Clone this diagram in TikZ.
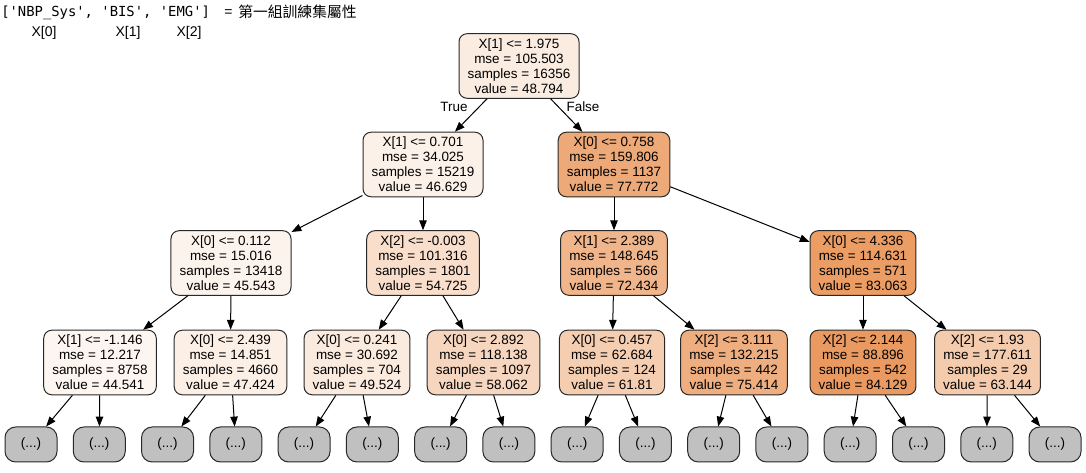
\documentclass[tikz,border=0pt]{standalone}
\usepackage{fontspec}
\setmainfont{Liberation Sans}
\setmonofont{DejaVu Sans Mono}
\newfontfamily\cjkfont{Noto Sans CJK TC}
\usetikzlibrary{arrows.meta}

\definecolor{cA}{RGB}{251,236,225}
\definecolor{cB}{RGB}{252,241,233}
\definecolor{cC}{RGB}{237,169,120}
\definecolor{cD}{RGB}{253,243,237}
\definecolor{cE}{RGB}{248,222,203}
\definecolor{cF}{RGB}{240,181,139}
\definecolor{cG}{RGB}{235,157,100}
\definecolor{cH}{RGB}{253,246,240}
\definecolor{cI}{RGB}{252,239,230}
\definecolor{cJ}{RGB}{251,234,222}
\definecolor{cK}{RGB}{247,214,191}
\definecolor{cL}{RGB}{245,206,178}
\definecolor{cM}{RGB}{238,174,128}
\definecolor{cN}{RGB}{234,154,96}
\definecolor{cO}{RGB}{244,203,173}
\definecolor{leafgray}{RGB}{192,192,192}
\definecolor{bordergray}{RGB}{40,40,40}

\tikzset{
  tnode/.style={draw=bordergray, line width=0.75pt, rounded corners=6pt, align=center,
    inner xsep=6.4pt, inner ysep=0pt, minimum height=48.4pt,
    font=\fontsize{10.1pt}{11.25pt}\selectfont},
  leafbox/.style={draw=bordergray, line width=0.75pt, rounded corners=8pt, fill=leafgray,
    minimum width=39pt, minimum height=26.25pt, inner sep=0pt,
    font=\fontsize{10.1pt}{11.25pt}\selectfont},
  conn/.style={draw=black, line width=0.75pt, -{Triangle[length=7.4pt,width=5.6pt]}},
  lbl/.style={inner sep=0pt, font=\fontsize{10.1pt}{11.25pt}\selectfont},
  hdrtxt/.style={inner sep=0pt, font=\fontsize{10.5pt}{12pt}\selectfont},
}

\begin{document}
\begin{tikzpicture}[x=0.75pt, y=-0.75pt]
\useasboundingbox (0,0) rectangle (1086,473);

% header text
\node[anchor=base west, inner sep=0pt, font=\ttfamily\fontsize{10.4pt}{12pt}\selectfont] (hdr) at (1,17) {['NBP\_Sys', 'BIS', 'EMG']};
\node[anchor=base west, hdrtxt] (eq) at (224,17) {=};
\node[anchor=base west, inner sep=0pt, font=\cjkfont\fontsize{11.1pt}{12pt}\selectfont] (cjk) at (238,17.5) {第一組訓練集屬性};
\node[anchor=base, hdrtxt] (x0) at (44,37) {X[0]};
\node[anchor=base, hdrtxt] (x1) at (128,37) {X[1]};
\node[anchor=base, hdrtxt] (x2) at (189,37) {X[2]};

% level 0
\node[tnode, fill=cA] (r) at (519,66) {X[1] <= 1.975\\mse = 105.503\\samples = 16356\\value = 48.794};
% level 1
\node[tnode, fill=cB] (n1) at (423,164.5) {X[1] <= 0.701\\mse = 34.025\\samples = 15219\\value = 46.629};
\node[tnode, fill=cC] (n2) at (614,164.5) {X[0] <= 0.758\\mse = 159.806\\samples = 1137\\value = 77.772};
% level 2
\node[tnode, fill=cD] (n11) at (231,263) {X[0] <= 0.112\\mse = 15.016\\samples = 13418\\value = 45.543};
\node[tnode, fill=cE] (n12) at (423,263) {X[2] <= -0.003\\mse = 101.316\\samples = 1801\\value = 54.725};
\node[tnode, fill=cF] (n21) at (614,263) {X[1] <= 2.389\\mse = 148.645\\samples = 566\\value = 72.434};
\node[tnode, fill=cG] (n22) at (863,263) {X[0] <= 4.336\\mse = 114.631\\samples = 571\\value = 83.063};
% level 3
\node[tnode, fill=cH] (n111) at (100,362.5) {X[1] <= -1.146\\mse = 12.217\\samples = 8758\\value = 44.541};
\node[tnode, fill=cI] (n112) at (230.5,362.5) {X[0] <= 2.439\\mse = 14.851\\samples = 4660\\value = 47.424};
\node[tnode, fill=cJ] (n121) at (357,362.5) {X[0] <= 0.241\\mse = 30.692\\samples = 704\\value = 49.524};
\node[tnode, fill=cK] (n122) at (483.5,362.5) {X[0] <= 2.892\\mse = 118.138\\samples = 1097\\value = 58.062};
\node[tnode, fill=cL] (n211) at (612,362.5) {X[0] <= 0.457\\mse = 62.684\\samples = 124\\value = 61.81};
\node[tnode, fill=cM] (n212) at (734,362.5) {X[2] <= 3.111\\mse = 132.215\\samples = 442\\value = 75.414};
\node[tnode, fill=cN] (n221) at (863,362.5) {X[2] <= 2.144\\mse = 88.896\\samples = 542\\value = 84.129};
\node[tnode, fill=cO] (n222) at (987.5,362.5) {X[2] <= 1.93\\mse = 177.611\\samples = 29\\value = 63.144};

% leaves
\foreach \i in {1,...,16} {
  \node[leafbox] (l\i) at ({31+68.27*(\i-1)},444.5) {(...)};
}

% labels
\node[lbl] (tl) at (454,107) {True};
\node[lbl] (fl) at (583,107) {False};

% edges
\draw[conn] (r) -- (n1);
\draw[conn] (r) -- (n2);
\draw[conn] (n1) -- (n11);
\draw[conn] (n1) -- (n12);
\draw[conn] (n2) -- (n21);
\draw[conn] (n2) -- (n22);
\draw[conn] (n11) -- (n111);
\draw[conn] (n11) -- (n112);
\draw[conn] (n12) -- (n121);
\draw[conn] (n12) -- (n122);
\draw[conn] (n21) -- (n211);
\draw[conn] (n21) -- (n212);
\draw[conn] (n22) -- (n221);
\draw[conn] (n22) -- (n222);
\foreach \p/\a/\b in {n111/1/2, n112/3/4, n121/5/6, n122/7/8, n211/9/10, n212/11/12, n221/13/14, n222/15/16} {
  \draw[conn] (\p) -- (l\a);
  \draw[conn] (\p) -- (l\b);
}
\end{tikzpicture}
\end{document}
